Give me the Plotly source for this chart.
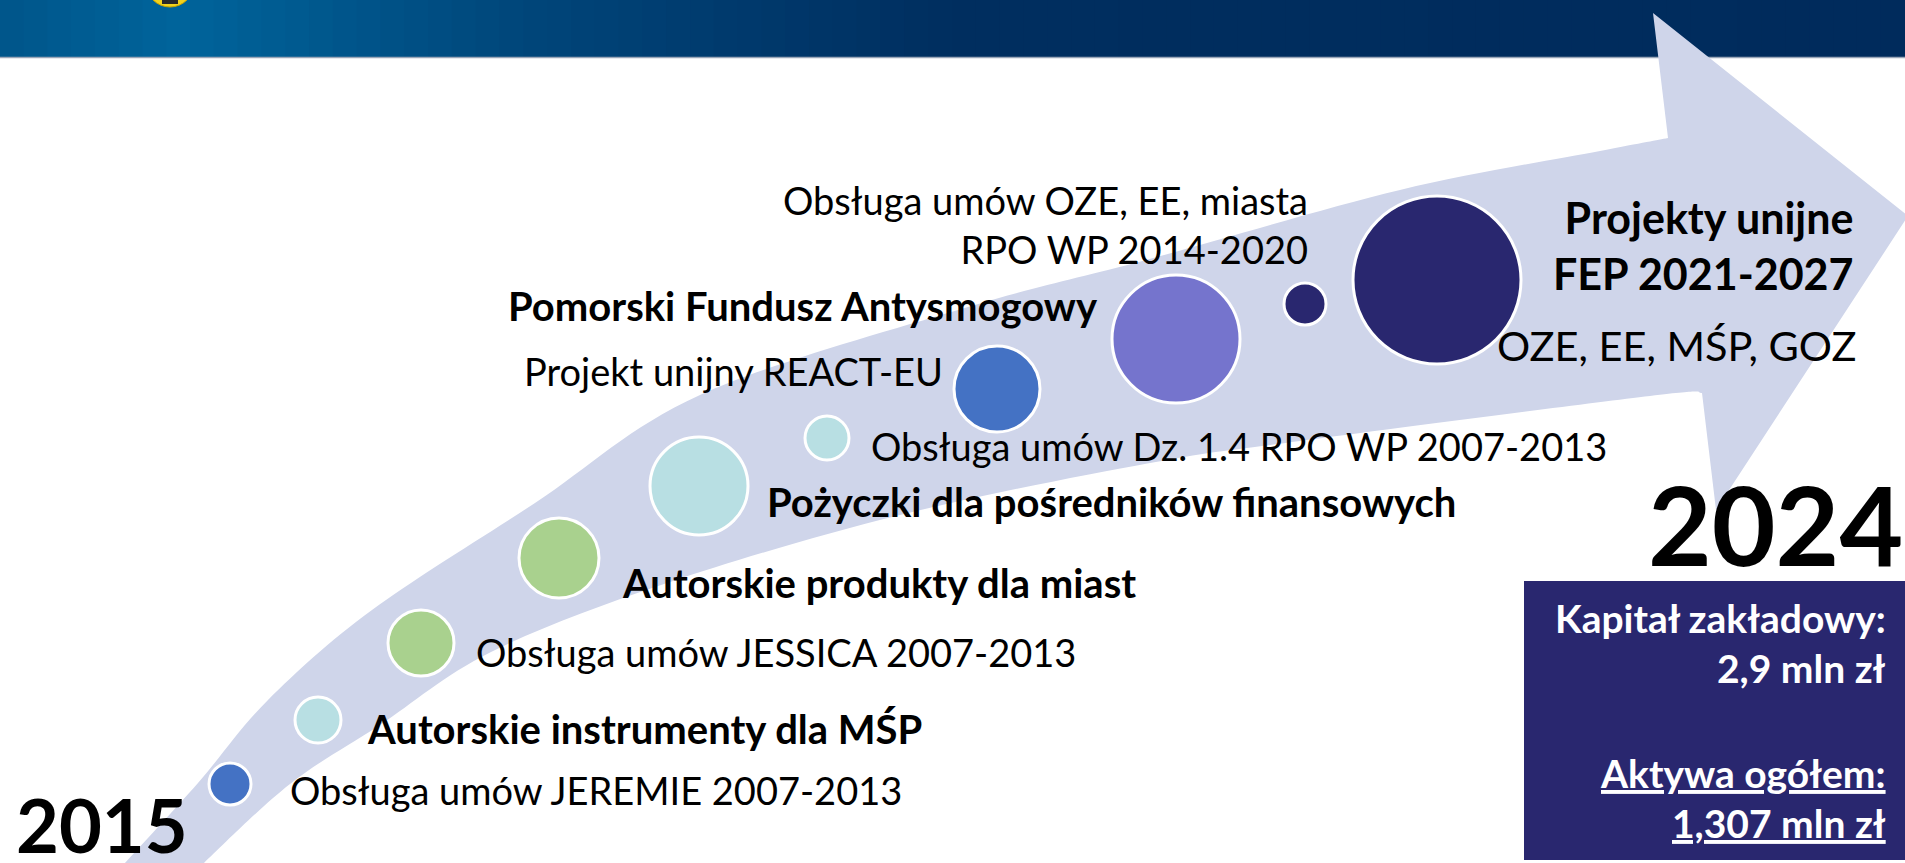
import plotly.graph_objects as go

W, H = 1905, 863
FONT = "Lato"

# ---------------- data ----------------
item_labels = [
    "Obsługa umów JEREMIE 2007-2013",
    "Autorskie instrumenty dla MŚP",
    "Obsługa umów JESSICA 2007-2013",
    "Autorskie produkty dla miast",
    "Pożyczki dla pośredników finansowych",
    "Obsługa umów Dz. 1.4 RPO WP 2007-2013",
    "Projekt unijny REACT-EU",
    "Pomorski Fundusz Antysmogowy",
    "Obsługa umów OZE, EE, miasta<br>RPO WP 2014-2020",
    "Projekty unijne<br>FEP 2021-2027",
]
item_bold = [False, True, False, True, True, False, False, True, False, True]
bubble_x = [230, 318, 421, 559, 699, 827, 997, 1176, 1305, 1437]
bubble_y = [784, 720, 643, 558, 486, 438, 389, 339, 304, 280]
bubble_r = [21, 23, 33, 40, 49, 22, 43, 64, 21, 84]
bubble_colors = ["#4472c4", "#b8dfe3", "#a9d18e", "#a9d18e", "#b8dfe3",
                 "#b8dfe3", "#4472c4", "#7574cd", "#29276f", "#29276f"]
# label anchor positions
label_x = [288, 365, 474, 620, 765, 869, 945, 1100, 1310, 1856]
label_y = [790, 729, 652, 583, 502, 446, 371, 306, 224, 245]
label_anchor = ["left", "left", "left", "left", "left", "left", "right", "right", "right", "right"]
label_size = [38, 40, 38, 40, 40, 38, 38, 40, 38, 43]

sub_label = "OZE, EE, MŚP, GOZ"
year_start = "2015"
year_end = "2024"
box_lines = ["Kapitał zakładowy:", "2,9 mln zł", "Aktywa ogółem:", "1,307 mln zł"]
box_underline = [False, False, True, True]

# ---------------- layout helpers ----------------
def smooth_path(pts):
    """Catmull-Rom through pts -> SVG cubic segments (without initial M)."""
    segs = []
    n = len(pts)
    for i in range(n - 1):
        p0 = pts[i - 1] if i > 0 else pts[i]
        p1 = pts[i]
        p2 = pts[i + 1]
        p3 = pts[i + 2] if i + 2 < n else pts[i + 1]
        c1 = (p1[0] + (p2[0] - p0[0]) / 6, p1[1] + (p2[1] - p0[1]) / 6)
        c2 = (p2[0] - (p3[0] - p1[0]) / 6, p2[1] - (p3[1] - p1[1]) / 6)
        segs.append(f"C {c1[0]:.1f},{c1[1]:.1f} {c2[0]:.1f},{c2[1]:.1f} {p2[0]:.1f},{p2[1]:.1f}")
    return " ".join(segs)

upper = [(110, 880), (125, 863), (198, 783), (268, 700), (372, 610), (535, 503),
         (700, 395), (968, 307), (1146, 260), (1400, 190), (1600, 151), (1668, 138)]
lower = [(1702, 393), (1650, 396), (1300, 441), (1150, 463), (900, 515), (667, 583),
         (491, 652), (380, 725), (290, 784), (204, 863), (190, 880)]
head = [(1653, 13), (1908, 216), (1716, 510)]

path = f"M {upper[0][0]},{upper[0][1]} " + smooth_path(upper)
path += " " + " ".join(f"L {x},{y}" for x, y in head)
path += f" L {lower[0][0]},{lower[0][1]} " + smooth_path(lower) + " Z"

def lerp_color(c1, c2, t):
    a = [int(c1[i:i + 2], 16) for i in (1, 3, 5)]
    b = [int(c2[i:i + 2], 16) for i in (1, 3, 5)]
    return "#" + "".join(f"{int(round(a[k] + (b[k] - a[k]) * t)):02x}" for k in range(3))

stops = [(0, "#00558a"), (180, "#00649b"), (520, "#00467a"), (950, "#002e5f"), (1905, "#002b5c")]

shapes = []
nstrip = 80
sw = W / nstrip
for i in range(nstrip):
    xm = (i + 0.5) * sw
    for j in range(len(stops) - 1):
        if stops[j][0] <= xm <= stops[j + 1][0]:
            t = (xm - stops[j][0]) / (stops[j + 1][0] - stops[j][0])
            col = lerp_color(stops[j][1], stops[j + 1][1], t)
            break
    shapes.append(dict(type="rect", xref="x", yref="y", x0=i * sw - 0.5, x1=(i + 1) * sw + 0.5,
                       y0=0, y1=57, fillcolor=col, line=dict(width=0), layer="below"))
shapes.append(dict(type="line", xref="x", yref="y", x0=0, x1=W, y0=57.5, y1=57.5,
                   line=dict(color="#9aa6b8", width=1.5), layer="below"))
# logo fragment
shapes.append(dict(type="circle", xref="x", yref="y", x0=146, x1=194, y0=-41, y1=7,
                   fillcolor="#f3d21c", line=dict(color="#c9a400", width=1), layer="below"))
shapes.append(dict(type="rect", xref="x", yref="y", x0=162, x1=178, y0=0, y1=4,
                   fillcolor="#2a2a2a", line=dict(width=0), layer="below"))
# arrow
shapes.append(dict(type="path", path=path, fillcolor="#cfd5ea", line=dict(width=0), layer="below"))
# navy info box
shapes.append(dict(type="rect", xref="x", yref="y", x0=1524, x1=1910, y0=581, y1=860,
                   fillcolor="#29276f", line=dict(width=0), layer="below"))

fig = go.Figure()
fig.add_trace(go.Scatter(
    x=bubble_x, y=bubble_y, mode="markers",
    marker=dict(size=[2 * r for r in bubble_r], color=bubble_colors,
                line=dict(color="white", width=3), opacity=1),
    hoverinfo="skip", showlegend=False))

annotations = []
for txt, b, x, y, anc, fs in zip(item_labels, item_bold, label_x, label_y, label_anchor, label_size):
    annotations.append(dict(x=x, y=y, xref="x", yref="y", text=f"<b>{txt}</b>" if b else txt,
                            showarrow=False, xanchor=anc, yanchor="middle", align=anc,
                            font=dict(family=FONT, size=fs, color="black")))
annotations.append(dict(x=1858, y=345, xref="x", yref="y", text=sub_label, showarrow=False,
                        xanchor="right", yanchor="middle", font=dict(family=FONT, size=41.5, color="black")))
annotations.append(dict(x=14, y=824, xref="x", yref="y", text=f"<b>{year_start}</b>", showarrow=False,
                        xanchor="left", yanchor="middle", font=dict(family=FONT, size=74, color="black")))
annotations.append(dict(x=1905, y=523, xref="x", yref="y", text=f"<b>{year_end}</b>", showarrow=False,
                        xanchor="right", yanchor="middle", font=dict(family=FONT, size=110, color="black")))
box_y = [618, 668, 773, 823]
for txt, u, y in zip(box_lines, box_underline, box_y):
    t = f"<b>{txt}</b>"
    if u:
        t = f"<u>{t}</u>"
    annotations.append(dict(x=1888, y=y, xref="x", yref="y", text=t, showarrow=False,
                            xanchor="right", yanchor="middle", font=dict(family=FONT, size=39, color="white")))

fig.update_layout(
    width=W, height=H, margin=dict(l=0, r=0, t=0, b=0),
    paper_bgcolor="white", plot_bgcolor="white",
    xaxis=dict(range=[0, W], visible=False, fixedrange=True),
    yaxis=dict(range=[H, 0], visible=False, fixedrange=True),
    shapes=shapes, annotations=annotations, showlegend=False,
)

fig.write_html("out.html", config={"displayModeBar": False},
               post_script="document.body.style.margin='0';document.body.style.overflow='hidden';")
